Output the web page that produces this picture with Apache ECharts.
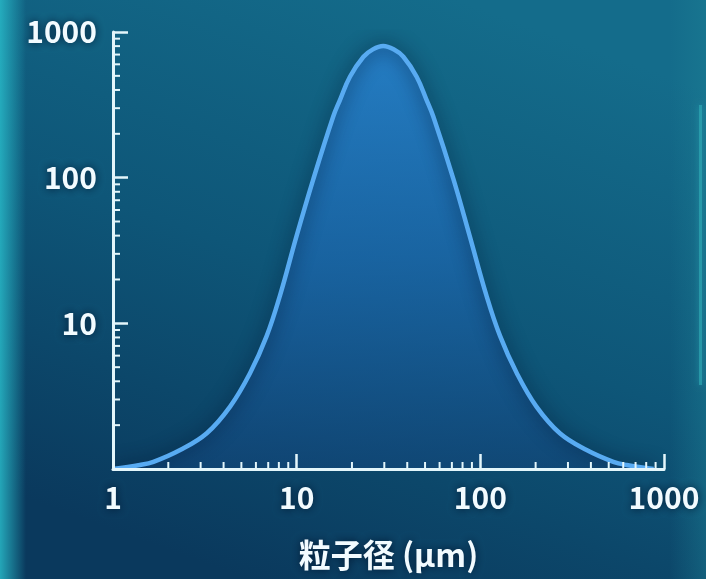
<!DOCTYPE html>
<html>
<head>
<meta charset="utf-8">
<script src="https://cdn.jsdelivr.net/npm/echarts@6/dist/echarts.min.js"></script>
<style>
html,body{margin:0;padding:0;background:#0d4a6e;}
#chart{width:706px;height:579px;}
</style>
</head>
<body>
<div id="chart"></div>
<script>
// Particle size (µm) and frequency values
const sizes  = [1, 1.40, 1.66, 2.32, 3.24, 4.34, 5.57, 6.87, 8.11, 10.0, 12.3, 15.8, 17.2, 19.5, 23.1, 26.0, 29.6,
                33.7, 38.1, 45.0, 51.0, 55.5, 71.5, 87.4, 108, 128, 158, 202, 271, 379, 530, 626, 878];
const values = [1.0, 1.065, 1.12, 1.35, 1.76, 2.68, 4.54, 8.2, 15.5, 40, 97, 262, 341, 493, 676, 760, 800,
                760, 676, 493, 341, 262, 97, 40, 15.5, 8.2, 4.54, 2.68, 1.76, 1.35, 1.12, 1.065, 1.0];

// Minor tick values on both log axes
const xMinorTicks = [2,3,4,5,6,7,8,9,20,30,40,50,60,70,80,90,200,300,400,500,600,700,800,900];
const yMinorTicks = [2,3,4,5,6,7,8,9,20,30,40,50,60,70,80,90,200,300,400,500,600,700,800,900];

const xAxisName = '粒子径 (μm)';

const axisColor = '#e3f6fb';
const font = '"Noto Sans CJK JP", "Noto Sans", sans-serif';
const labelStyle = {
  color: '#f2fbff', fontSize: 30, fontWeight: 'bold', fontFamily: font,
  textShadowColor: 'rgba(0,20,45,0.9)', textShadowBlur: 8
};

const chart = echarts.init(document.getElementById('chart'), null, {renderer: 'canvas'});

const option = {
  animation: false,
  graphic: [
    { type: 'rect', z: -100, silent: true, shape: {x: 0, y: 0, width: 706, height: 579},
      style: { fill: new echarts.graphic.LinearGradient(0.65, 0, 0.35, 1, [
        {offset: 0, color: '#146c8b'},
        {offset: 0.5, color: '#0e5678'},
        {offset: 1, color: '#0a395d'}
      ]) } },
    { type: 'rect', z: -99, silent: true, shape: {x: 0, y: 0, width: 26, height: 579},
      style: { fill: new echarts.graphic.LinearGradient(0, 0, 1, 0, [
        {offset: 0, color: 'rgba(40,185,200,0.85)'},
        {offset: 1, color: 'rgba(40,185,200,0)'}
      ]) } },
    { type: 'rect', z: -99, silent: true, shape: {x: 670, y: 0, width: 36, height: 579},
      style: { fill: new echarts.graphic.LinearGradient(0, 0, 1, 0, [
        {offset: 0, color: 'rgba(30,130,150,0)'},
        {offset: 1, color: 'rgba(30,130,150,0.4)'}
      ]) } },
    { type: 'rect', z: -98, silent: true, shape: {x: 699, y: 105, width: 3, height: 280},
      style: { fill: 'rgba(50,175,185,0.6)', shadowColor: 'rgba(50,200,210,0.6)', shadowBlur: 6 } }
  ],
  grid: { left: 113, right: 42, top: 32, bottom: 110, containLabel: false, outerBoundsMode: 'none' },
  xAxis: {
    type: 'log', logBase: 10, min: 1, max: 1000, z: 10,
    name: xAxisName, nameLocation: 'middle', nameGap: 70, nameMoveOverlap: false,
    nameTextStyle: { color: '#f2fbff', fontSize: 32, fontWeight: 'bold', fontFamily: font,
      textShadowColor: 'rgba(0,20,45,0.9)', textShadowBlur: 8 },
    axisLine: { show: true, lineStyle: { color: axisColor, width: 3 } },
    axisTick: { show: true, inside: true, length: 15, lineStyle: { color: axisColor, width: 2.5 } },
    splitLine: { show: false },
    axisLabel: Object.assign({ margin: 14, formatter: v => String(Math.round(v)) }, labelStyle)
  },
  yAxis: {
    type: 'log', logBase: 10, min: 1, max: 1000, z: 10,
    axisLine: { show: true, lineStyle: { color: axisColor, width: 3 } },
    axisTick: { show: true, inside: true, length: 15, lineStyle: { color: axisColor, width: 2.5 } },
    splitLine: { show: false },
    axisLabel: Object.assign({ margin: 16, showMinLabel: false, formatter: v => String(Math.round(v)) }, labelStyle)
  },
  series: [
    {
      type: 'line',
      data: sizes.map((s, i) => [s, values[i]]),
      smooth: 0.4,
      showSymbol: false,
      symbol: 'none',
      z: 3,
      lineStyle: { color: '#58abf2', width: 4.5, shadowColor: 'rgba(0,22,50,0.85)', shadowBlur: 18 },
      areaStyle: {
        origin: 'start',
        color: new echarts.graphic.LinearGradient(0, 0, 0, 1, [
          {offset: 0, color: 'rgba(44,134,220,1)'},
          {offset: 0.5, color: 'rgba(30,105,180,0.95)'},
          {offset: 1, color: 'rgba(18,70,122,0.9)'}
        ])
      }
    },
    {
      type: 'custom',
      clip: false,
      z: 12,
      data: xMinorTicks.map(v => [v, 1]),
      renderItem: function (params, api) {
        const p = api.coord([api.value(0), api.value(1)]);
        return { type: 'line', shape: {x1: p[0], y1: p[1], x2: p[0], y2: p[1] - 7},
          style: { stroke: axisColor, lineWidth: 2 } };
      }
    },
    {
      type: 'custom',
      clip: false,
      z: 12,
      data: yMinorTicks.map(v => [1, v]),
      renderItem: function (params, api) {
        const p = api.coord([api.value(0), api.value(1)]);
        return { type: 'line', shape: {x1: p[0], y1: p[1], x2: p[0] + 7, y2: p[1]},
          style: { stroke: axisColor, lineWidth: 2 } };
      }
    }
  ]
};
chart.setOption(option);
</script>
</body>
</html>
